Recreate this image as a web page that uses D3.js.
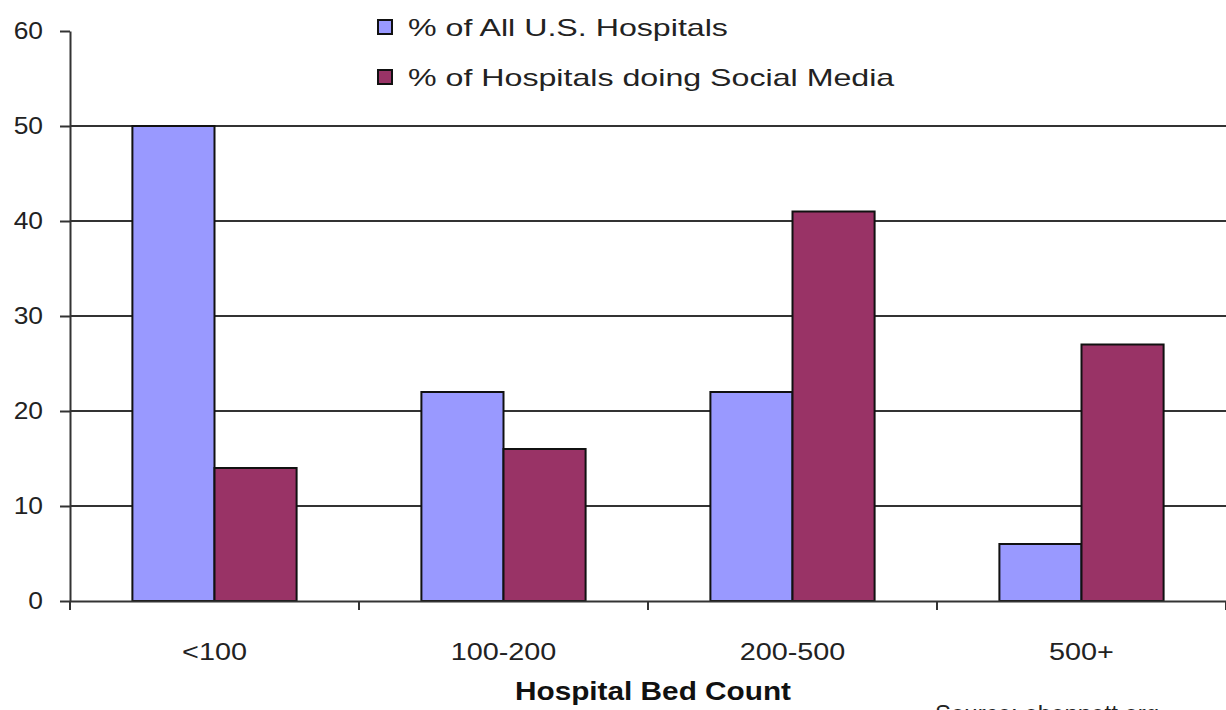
<!DOCTYPE html>
<html>
<head>
<meta charset="utf-8">
<script src="https://cdn.jsdelivr.net/npm/d3@7"></script>
<style>
  html, body { margin: 0; padding: 0; background: #fff; }
  svg { display: block; font-family: "Liberation Sans", Arial, sans-serif; }
</style>
</head>
<body>
<div id="chart"></div>
<script>
// data
const categories = ["<100", "100-200", "200-500", "500+"]
const seriesNames = ["% of All U.S. Hospitals", "% of Hospitals doing Social Media"]
const allHospitals = [50, 22, 22, 6]
const socialMedia = [14, 16, 41, 27]
const yTicks = [0, 10, 20, 30, 40, 50, 60]
const colors = ["#9999ff", "#993366"]

const width = 1226, height = 710
const marginLeft = 70, marginRight = 0, marginTop = 31, marginBottom = 109

// the original text is drawn a bit wider than the font, so stretch it
const stretch = 1.2

const svg = d3.select("#chart").append("svg")
      .attr("width", width)
      .attr("height", height)
      .attr("viewBox", [0, 0, width, height])

const x0 = d3.scaleBand()
      .domain(categories)
      .range([marginLeft, width - marginRight])
      .paddingInner(0)
      .paddingOuter(0)

const x1 = d3.scaleBand()
      .domain(d3.range(seriesNames.length))
      .range([0, x0.bandwidth()])
      .paddingInner(0)
      .paddingOuter(0.76)

const y = d3.scaleLinear()
      .domain([0, 60])
      .range([height - marginBottom, marginTop])

function widen(sel, factor = stretch) {
      sel.each(function() {
            const w = this.getComputedTextLength()
            d3.select(this)
                  .attr("textLength", w * factor)
                  .attr("lengthAdjust", "spacingAndGlyphs")
      })
}

// gridlines (no line at 60)
svg.append("g")
      .selectAll("line")
      .data(yTicks.filter(d => d > 0 && d < 60))
      .join("line")
      .attr("x1", marginLeft)
      .attr("x2", width)
      .attr("y1", d => y(d))
      .attr("y2", d => y(d))
      .attr("stroke", "#333")
      .attr("stroke-width", 2)

// bars
const rows = categories.map((c, i) => [allHospitals[i], socialMedia[i]])
svg.append("g")
      .selectAll("g")
      .data(rows)
      .join("g")
      .attr("transform", (d, i) => `translate(${x0(categories[i])},0)`)
      .selectAll("rect")
      .data(d => d.map((v, s) => ({v, s})))
      .join("rect")
      .attr("x", d => x1(d.s))
      .attr("width", x1.bandwidth())
      .attr("y", d => y(d.v))
      .attr("height", d => y(0) - y(d.v))
      .attr("fill", d => colors[d.s])
      .attr("stroke", "#111")
      .attr("stroke-width", 2)

// y axis
svg.append("g")
      .attr("transform", `translate(${marginLeft},0)`)
      .call(d3.axisLeft(y).tickValues(yTicks).tickSize(10).tickPadding(17).tickSizeOuter(0))
      .call(g => g.select(".domain").attr("stroke", "#333").attr("stroke-width", 2))
      .call(g => g.selectAll(".tick line").attr("stroke", "#333").attr("stroke-width", 2))
      .call(g => g.selectAll(".tick text")
            .attr("font-size", 24)
            .attr("fill", "#222")
            .attr("font-family", "Liberation Sans, Arial, sans-serif")
            .call(widen, 1.1))

// x axis
const xTickPositions = categories.map(c => x0(c)).concat([width - marginRight])
svg.append("g")
      .attr("transform", `translate(0,${y(0)})`)
      .call(d3.axisBottom(x0).tickSize(0).tickPadding(42))
      .call(g => g.select(".domain").attr("stroke", "#333").attr("stroke-width", 2))
      .call(g => g.selectAll(".tick text")
            .attr("font-size", 24)
            .attr("fill", "#222")
            .attr("font-family", "Liberation Sans, Arial, sans-serif")
            .call(widen))
      .call(g => g.selectAll(".sep")
            .data(xTickPositions)
            .join("line")
            .attr("class", "sep")
            .attr("x1", d => d)
            .attr("x2", d => d)
            .attr("y1", 0)
            .attr("y2", 9)
            .attr("stroke", "#333")
            .attr("stroke-width", 2))

// axis title
svg.append("text")
      .attr("x", 653)
      .attr("y", 700)
      .attr("text-anchor", "middle")
      .attr("font-size", 25)
      .attr("font-weight", "bold")
      .attr("fill", "#111")
      .text("Hospital Bed Count")
      .call(widen, 1.19)

// source note, cut off at the bottom edge as in the original
svg.append("text")
      .attr("x", 935)
      .attr("y", 722)
      .attr("font-size", 24)
      .attr("fill", "#222")
      .text("Source: ebennett.org")

// legend
const legend = svg.append("g")
      .selectAll("g")
      .data(seriesNames)
      .join("g")
      .attr("transform", (d, i) => `translate(378,${20 + i * 50})`)

legend.append("rect")
      .attr("width", 14)
      .attr("height", 14)
      .attr("fill", (d, i) => colors[i])
      .attr("stroke", "#111")
      .attr("stroke-width", 2)

legend.append("text")
      .attr("x", 30)
      .attr("y", 16)
      .attr("font-size", 24)
      .attr("fill", "#222")
      .text(d => d)
      .call(widen, 1.34)
</script>
</body>
</html>
